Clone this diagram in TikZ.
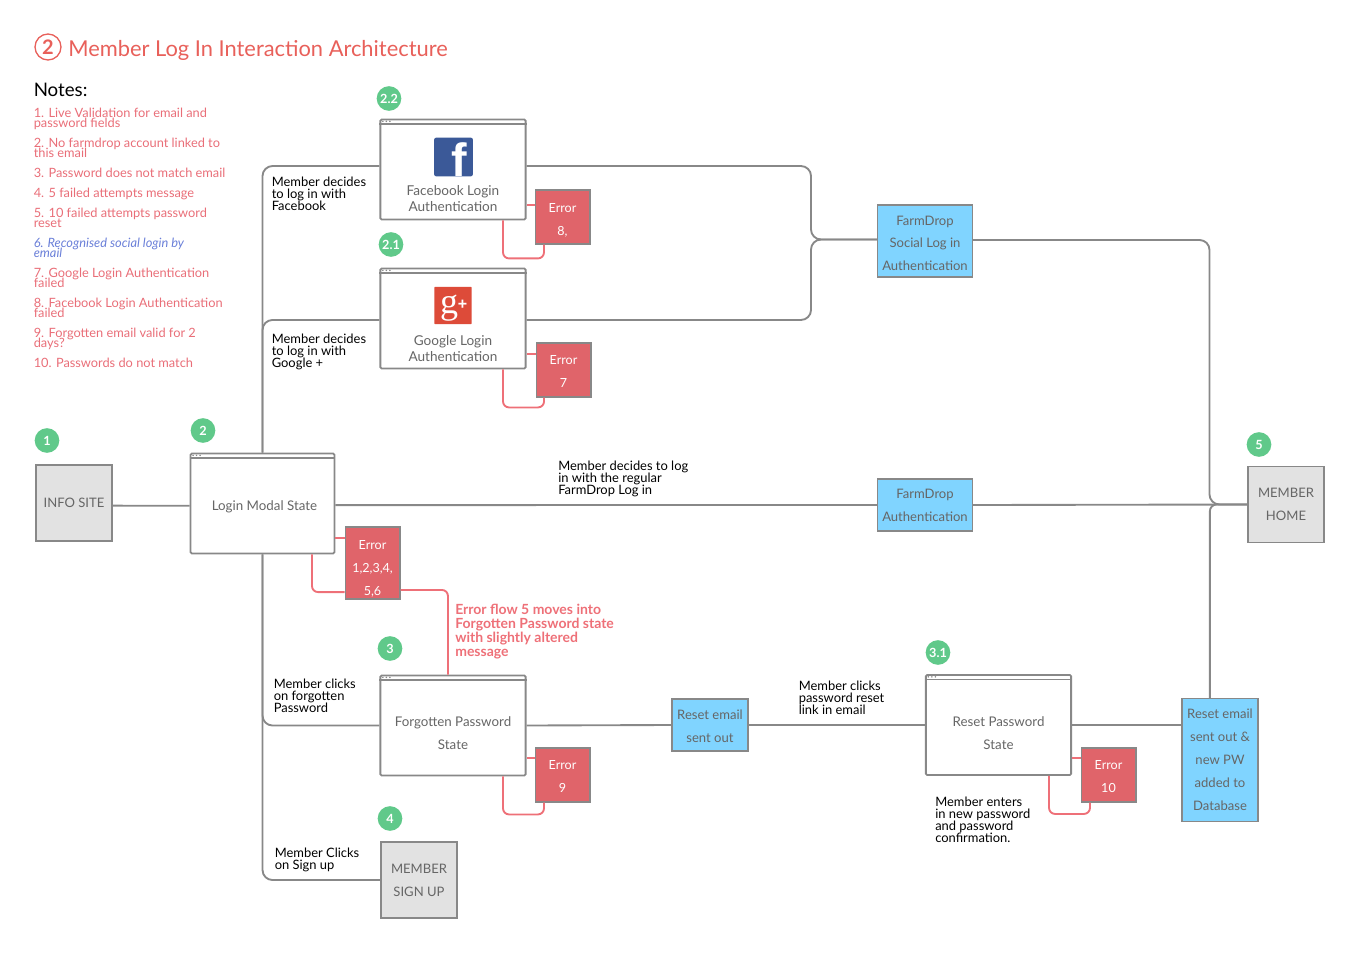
\documentclass[tikz,border=0pt]{standalone}
\usepackage{fontspec}
\setmainfont{Lato}
\newfontfamily\fbfont{Liberation Sans}
\newfontfamily\ggfont{Liberation Serif}
\usetikzlibrary{positioning}
\definecolor{linegray}{HTML}{888888}
\definecolor{errred}{HTML}{E0646A}
\definecolor{errline}{HTML}{EE7078}
\definecolor{notered}{HTML}{E96E78}
\definecolor{titlered}{HTML}{E8605A}
\definecolor{noteblue}{HTML}{6A7FD8}
\definecolor{infoblue}{HTML}{80D4FF}
\definecolor{boxgray}{HTML}{E2E2E2}
\definecolor{stepgreen}{HTML}{60C98A}
\definecolor{boxtext}{HTML}{666666}
\definecolor{fbblue}{HTML}{3B5998}
\definecolor{ggred}{HTML}{DD4B39}
\newcommand{\tightlines}{\lineskiplimit=-100pt\relax}
\tikzset{
    flow/.style = {draw=linegray, line width=1.4pt, rounded corners=7.5pt},
    errflow/.style = {draw=errline, line width=1.4pt, rounded corners=4.5pt},
    statebox/.style = {rectangle, draw=linegray, line width=1.4pt, rounded corners=1pt, fill=white, align=center, minimum width=109pt, minimum height=75pt, font=\fontsize{10}{17.2}\selectfont, text=boxtext},
    errbox/.style = {rectangle, draw=linegray, line width=1pt, fill=errred, text=white, align=center, minimum width=41pt, minimum height=40.5pt, font=\fontsize{9.4}{17.2}\selectfont},
    infobox/.style = {rectangle, draw=linegray, line width=1pt, fill=infoblue, text=boxtext, align=center, font=\fontsize{9.8}{17.2}\selectfont},
    graybox/.style = {rectangle, draw=linegray, line width=1.2pt, fill=boxgray, text=boxtext, align=center, minimum width=57pt, minimum height=57pt, font=\fontsize{9.8}{17.2}\selectfont},
    stepdot/.style = {circle, fill=stepgreen, text=white, inner sep=0pt, minimum size=18.5pt, font=\fontsize{9.5}{10}\selectfont\bfseries},
    note/.style = {align=left, anchor=north west, inner sep=0pt, text=notered, font=\fontsize{9.6}{7.6}\selectfont\tightlines},
    lbl/.style = {align=left, anchor=north west, inner sep=0pt, text=black, font=\fontsize{9.7}{8.8}\selectfont\tightlines},
    logotext/.style = {align=center, inner sep=0pt, text=boxtext, font=\fontsize{10.2}{12}\selectfont},
}
% browser bar on top of a window box
\newcommand{\winbar}[1]{%
  \draw[linegray,line width=1.2pt] ([yshift=-4.1pt]#1.north west) -- ([yshift=-4.1pt]#1.north east);
  \foreach \dotx in {2.6,5.2,7.9}
    \fill[linegray] ([xshift=\dotx pt,yshift=-2.1pt]#1.north west) circle (.65pt);
}
\newcommand{\lowline}[1]{\rule{0pt}{#1pt}}
\begin{document}
\begin{tikzpicture}[x=0.75pt,y=-0.75pt]
\useasboundingbox (0,0) rectangle (1366,966);
% title
\node[circle,draw=titlered,line width=1pt,text=titlered,minimum size=19.5pt,inner sep=0pt,font=\fontsize{15}{15}\selectfont\bfseries] (titlenum) at (48,47) {2};
\node[anchor=west,inner sep=0pt,text=titlered,font=\fontsize{16.4}{20}\selectfont] (title) at (68,50.5) {Member Log In Interaction Architecture};
% notes
\node[anchor=west,inner sep=0pt,font=\fontsize{14}{16}\selectfont] (notes) at (33.5,90) {Notes:};
\node[note] (n1) at (33.5,107.5) {1. Live Validation for email and\\password fields};
\node[note] (n2) at (33.5,137.5) {2. No farmdrop account linked to\\this email};
\node[note] (n3) at (33.5,167.5) {3. Password does not match email};
\node[note] (n4) at (33.5,187.5) {4. 5 failed attempts message};
\node[note] (n5) at (33.5,207.5) {5. 10 failed attempts password\\reset};
\node[note,text=noteblue,font=\fontsize{9.6}{7.6}\selectfont\itshape\tightlines] (n6) at (33.5,237.5) {6. Recognised social login by\\email};
\node[note] (n7) at (33.5,267.5) {7. Google Login Authentication\\failed};
\node[note] (n8) at (33.5,297.5) {8. Facebook Login Authentication\\failed};
\node[note] (n9) at (33.5,327.5) {9. Forgotten email valid for 2\\days?};
\node[note] (n10) at (33.5,357.5) {10. Passwords do not match};
% step numbers
\node[stepdot] (s1) at (47,440.5) {1};
\node[stepdot] (s2) at (203,430.5) {2};
\node[stepdot] (s22) at (389,98.5) {2.2};
\node[stepdot] (s21) at (391,244.5) {2.1};
\node[stepdot] (s3) at (390,648.5) {3};
\node[stepdot] (s31) at (938,652.5) {3.1};
\node[stepdot] (s4) at (390,818.5) {4};
\node[stepdot] (s5) at (1259,444.5) {5};
% boxes
\node[graybox] (info) at (74,503) {INFO SITE};
\node[statebox,minimum width=108pt] (login) at (262.5,503.5) {\lowline{12.5}\hspace*{3pt}Login Modal State};
\node[statebox] (fb) at (453,169.5) {};
\node[statebox] (gg) at (453,318.5) {};
\node[statebox] (forgot) at (453,725.5) {\lowline{19}Forgotten Password\\State};
\node[statebox] (reset) at (998.5,725) {\lowline{20}Reset Password\\State};
\node[graybox] (signup) at (419,880) {MEMBER\\SIGN UP};
\node[graybox] (home) at (1286,504.5) {MEMBER\\HOME};
\node[infobox,minimum width=71pt,minimum height=54pt] (social) at (925,241) {\lowline{10.5}FarmDrop\\Social Log in\\Authentication};
\node[infobox,minimum width=71pt,minimum height=39pt] (auth) at (925,505) {FarmDrop\\Authentication};
\node[infobox,minimum width=57pt,minimum height=39pt] (sent) at (710,725) {\lowline{9}Reset email\\sent out};
\node[infobox,minimum width=57pt,minimum height=92pt] (db) at (1220,760) {Reset email\\sent out \&\\new PW\\added to\\Database};
\winbar{login}
\winbar{fb}
\winbar{gg}
\winbar{forgot}
\winbar{reset}
% logos
\node[rectangle,rounded corners=1.5pt,fill=fbblue,minimum size=29pt,inner sep=0pt] (fblogo) at (453.5,157) {};
\node[anchor=base,inner sep=0pt,text=white,font=\fontsize{35}{35}\fbfont\bfseries] (fbf) at (459,177) {f};
\node[logotext] (fbtext) at (453,199) {Facebook Login\\Authentication};
\node[rectangle,rounded corners=.6pt,fill=ggred,minimum size=28pt,inner sep=0pt] (gglogo) at (453,305.5) {};
\node[anchor=base,inner sep=0pt,text=white,font=\fontsize{27}{27}\ggfont] (ggg) at (449,313) {g};
\node[inner sep=0pt,text=white,font=\fontsize{12}{12}\fbfont\bfseries] (ggplus) at (462.5,305) {+};
\node[logotext] (ggtext) at (453,349) {Google Login\\Authentication};
% errors
\node[errbox] (err8) at (562.5,217) {\lowline{12}Error\\8,};
\node[errbox] (err7) at (563.5,370) {\lowline{9}Error\\7};
\node[errbox,inner ysep=0pt,minimum height=54pt] (errlog) at (372.5,563) {\lowline{15}Error\\1,2,3,4,\\5,6};
\node[errbox] (err9) at (562.5,775) {\lowline{9}Error\\9};
\node[errbox] (err10) at (1108.5,775) {\lowline{9}Error\\10};
% labels
\node[lbl] (lfb) at (271.5,177) {Member decides\\to log in with\\Facebook};
\node[lbl] (lgg) at (271.5,334) {Member decides\\to log in with\\Google +};
\node[lbl] (llog) at (558,461) {Member decides to log\\in with the regular\\FarmDrop Log in};
\node[lbl] (lfor) at (273.5,679) {Member clicks\\on forgotten\\Password};
\node[lbl] (lsig) at (274.5,848) {Member Clicks\\on Sign up};
\node[lbl] (lres) at (798.5,681) {Member clicks\\password reset\\link in email};
\node[lbl] (lent) at (935,797) {Member enters\\in new password\\and password\\confirmation.};
\node[lbl,text=errline,font=\fontsize{10.5}{10.5}\selectfont\bfseries\tightlines] (lerr) at (455,604) {Error flow 5 moves into\\Forgotten Password state\\with slightly altered\\message};
% bends that no box gives
\coordinate (sbend) at (811,239.5);
\coordinate (sjoin) at (877,239.5);
\coordinate (hbus) at (1209.5,504.5);
%
\draw[flow] ([yshift=-2pt]info.east) -- ([yshift=-1.7pt]login.west);
\draw[flow] (login.north) |- ([yshift=2.6pt]fb.west);
\draw[flow] (login.north) |- ([yshift=-1.1pt]gg.west);
\draw[flow] (login.south) |- (forgot.west);
\draw[flow] (login.south) |- (signup.west);
%
\draw[flow] ([yshift=2.6pt]fb.east) -- ([yshift=2.6pt]fb.east -| sbend) -- (sbend) -- (sjoin);
\draw[flow] ([yshift=-1.1pt]gg.east) -- ([yshift=-1.1pt]gg.east -| sbend) -- (sbend) -- (sjoin);
\draw[flow] ([yshift=.75pt]social.east) -| (hbus) -- (home.west);
\draw[flow,rounded corners=5pt] ([xshift=-7.6pt]db.north) |- (home.west);
%
\draw[flow] ([yshift=-1.2pt]login.east) -- (auth.west);
\draw[flow] (auth.east) -- (home.west);
\draw[flow] (forgot.east) -- (sent.west);
\draw[flow] (sent.east) -- (reset.west);
\draw[flow] (reset.east) -- (reset.east -| db.west);
%
\draw[errflow] ([yshift=9pt]err8.west) -- ([yshift=9pt]err8.west -| fb.east);
\draw[errflow] ([xshift=37.5pt]fb.south) -- ++(0,38) -| ([xshift=-13.9pt]err8.south);
\draw[errflow] ([yshift=12pt]err7.west) -- ([yshift=12pt]err7.west -| gg.east);
\draw[errflow] ([xshift=37.5pt]gg.south) -- ++(0,38) -| ([xshift=-14.6pt]err7.south);
\draw[errflow] ([yshift=18.8pt]errlog.west) -- ([yshift=18.8pt]errlog.west -| login.east);
\draw[errflow] ([xshift=37.1pt]login.south) |- ([yshift=-21.8pt]errlog.west);
\draw[errflow] ([yshift=-20.2pt]errlog.east) -| ([xshift=-3.8pt]forgot.north);
\draw[errflow] ([yshift=13pt]err9.west) -- ([yshift=13pt]err9.west -| forgot.east);
\draw[errflow] ([xshift=37.5pt]forgot.south) -- ++(0,38) -| ([xshift=-13.9pt]err9.south);
\draw[errflow] ([yshift=13pt]err10.west) -- ([yshift=13pt]err10.west -| reset.east);
\draw[errflow] ([xshift=37.9pt]reset.south) -- ++(0,38) -| ([xshift=-13.9pt]err10.south);
\end{tikzpicture}
\end{document}
